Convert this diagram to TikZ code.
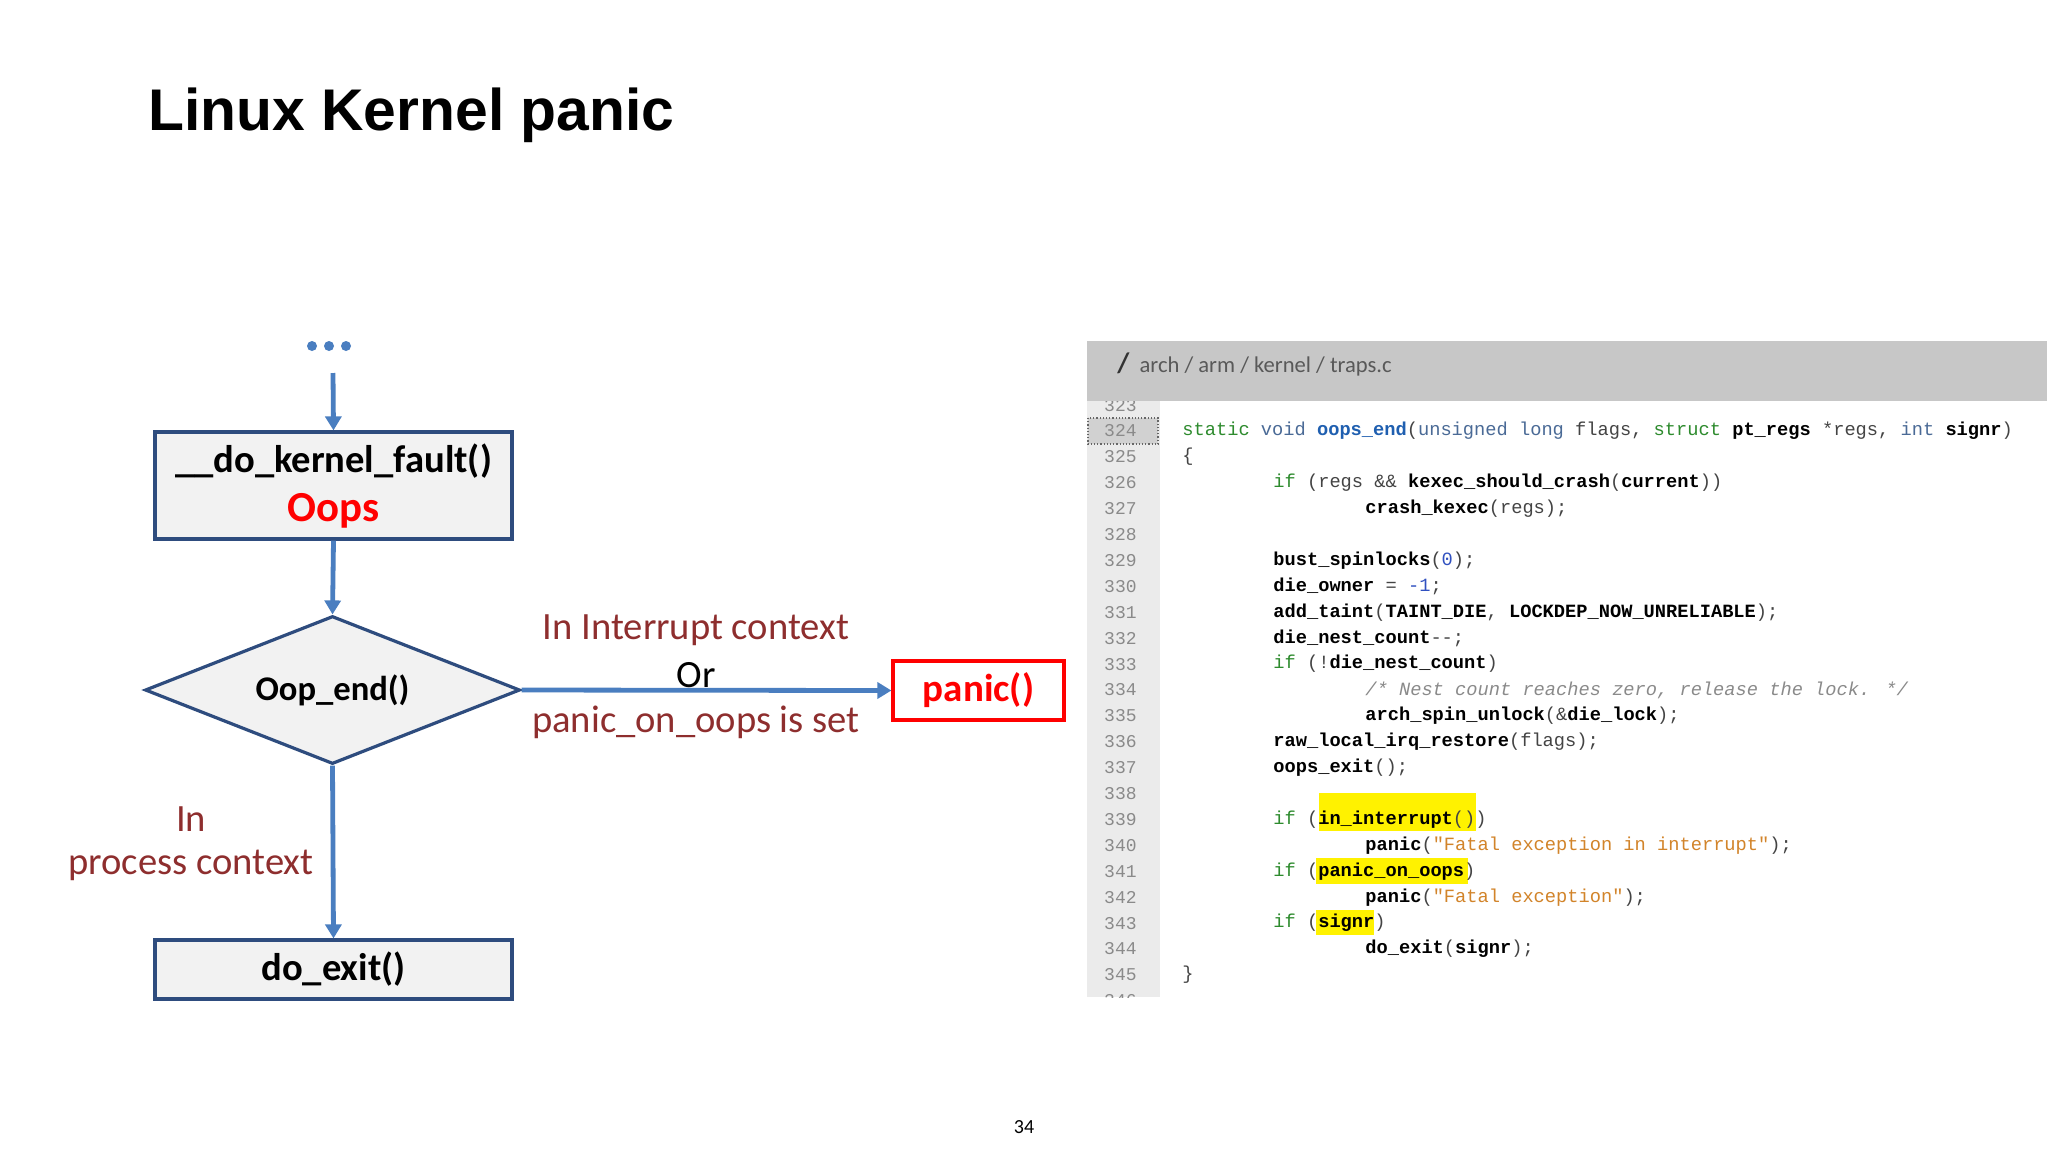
\documentclass[tikz,border=0pt]{standalone}
\usepackage{fontspec}
\setmainfont{Carlito}
\newfontfamily\titlefont{Liberation Sans}
\newfontfamily\codefont{Liberation Mono}
\usetikzlibrary{shapes.geometric,arrows.meta}
\definecolor{arr}{HTML}{4A7EC0}
\definecolor{bord}{HTML}{2E4C7E}
\definecolor{boxfill}{HTML}{F2F2F2}
\definecolor{lab}{HTML}{8E2E2E}
\definecolor{kw}{HTML}{2E8B2E}
\definecolor{ty}{HTML}{4A6A96}
\definecolor{fn}{HTML}{1F5FB0}
\definecolor{st}{HTML}{D2842A}
\definecolor{cm}{HTML}{8A8A8A}
\definecolor{nm}{HTML}{3050C0}
\definecolor{tx}{HTML}{444444}
\newcommand\Kw[1]{\textcolor{kw}{#1}}
\newcommand\Ty[1]{\textcolor{ty}{#1}}
\newcommand\Fn[1]{\textcolor{fn}{\bfseries #1}}
\newcommand\Bd[1]{\textcolor{black}{\bfseries #1}}
\newcommand\St[1]{\textcolor{st}{#1}}
\newcommand\Cm[1]{\textcolor{cm}{\itshape #1}}
\newcommand\Nm[1]{\textcolor{nm}{#1}}
\tikzset{
  flowbox/.style={draw=bord,line width=1.6pt,fill=boxfill,inner sep=0pt,font=\fontsize{19.3}{22}\selectfont\bfseries},
  flowarr/.style={draw=arr,line width=2.4pt,-{Triangle[length=7pt,width=8pt]}},
  lbl/.style={text=lab,font=\fontsize{19.3}{22}\selectfont},
  codeln/.style={anchor=west,inner sep=0pt,text=tx,font=\codefont\fontsize{9.35}{11}\selectfont},
  lnum/.style={anchor=east,inner sep=0pt,text=cm,font=\codefont\fontsize{9}{11}\selectfont}
}
\begin{document}
\begin{tikzpicture}[x=0.5pt,y=-0.5pt]
\useasboundingbox (0,0) rectangle (2048,1152);
\fill[white] (0,0) rectangle (2048,1152);
% title
\node[anchor=west,inner sep=0pt,font=\titlefont\fontsize{29.4}{32}\selectfont\bfseries] (title) at (148,115) {Linux Kernel panic};
% dots
\foreach \x [count=\i] in {312,329,346} \fill[arr] (\x,346) circle (5);
\coordinate (top) at (333,373);
% boxes
\node[flowbox,minimum width=178.5pt,minimum height=53.5pt,align=center] (fault) at (333.5,485.5) {};
\node[font=\fontsize{19.3}{22}\selectfont\bfseries] (faultt) at (333.5,461) {\_\_do\_kernel\_fault()};
\node[font=\fontsize{21.4}{24}\selectfont\bfseries,text=red] (oops) at (333.5,511) {Oops};
\node[diamond,draw=bord,line width=1.6pt,fill=boxfill,minimum width=187.5pt,minimum height=74pt,inner sep=0pt,aspect=2.5,font=\fontsize{17.3}{20}\selectfont\bfseries] (dia) at (332.5,690) {Oop\_end()};
\node[draw=red,line width=1.6pt,fill=white,minimum width=85.5pt,minimum height=29.5pt,inner sep=0pt,text=red,font=\fontsize{19.5}{22}\selectfont\bfseries] (panic) at (978.5,690.5) {panic()};
\node[flowbox,minimum width=178.5pt,minimum height=29.5pt] (exit) at (333.5,969.5) {do\_exit()};
% arrows
\draw[flowarr] (top) -- (fault.north);
\draw[flowarr] (fault.south) -- (dia.north);
\draw[flowarr] (dia.east) -- (panic.west);
\draw[flowarr] (dia.south) -- (exit.north);
% labels
\node[lbl] (l1) at (696,630) {In Interrupt context};
\node[font=\fontsize{19.3}{22}\selectfont] (l2) at (696,675) {Or};
\node[lbl] (l3) at (696,722) {panic\_on\_oops is set};
\node[lbl] (l4) at (191,819) {In};
\node[lbl] (l5) at (191,865) {process context};
\node[font=\fontsize{10}{12}\selectfont] (pg) at (1024,1127) {34};
% code panel
\fill[white] (1087,341) rectangle (2047,997);
\fill[black!22] (1087,341) rectangle (2047,401);
\node[anchor=west,inner sep=0pt,text=black!65,font=\fontsize{11.3}{13}\selectfont] (path) at (1117,364) {\textcolor{black!80}{\fontsize{14}{13}\selectfont\bfseries /}\ \ arch / arm / kernel / traps.c};
\begin{scope}
\clip (1087,401) rectangle (2047,997);
\fill[black!8] (1087,401) rectangle (1160,997);
\fill[black!18] (1088,418) rectangle (1158,444);
\draw[black!60,densely dotted,line width=0.6pt] (1088,418) rectangle (1158,444);
\foreach \n in {323,...,346} \node[lnum] (n\n) at (1137,{431+(\n-324)*25.9}) {\n};
\fill[yellow] (1319,793) rectangle (1476,831);
\fill[yellow] (1316,858) rectangle (1468,884);
\fill[yellow] (1316,910) rectangle (1374,935);
\def\ia{1182}\def\ib{1273}\def\ic{1365}
\node[codeln] (c324) at (\ia,431) {\Kw{static} \Ty{void} \Fn{oops\_end}(\Ty{unsigned long} flags, \Kw{struct} \Bd{pt\_regs} *regs, \Ty{int} \Bd{signr})};
\node[codeln] (c325) at (\ia,456.9) {\{};
\node[codeln] (c326) at (\ib,482.8) {\Kw{if} (regs \&\& \Bd{kexec\_should\_crash}(\Bd{current}))};
\node[codeln] (c327) at (\ic,508.7) {\Bd{crash\_kexec}(regs);};
\node[codeln] (c329) at (\ib,560.5) {\Bd{bust\_spinlocks}(\Nm{0});};
\node[codeln] (c330) at (\ib,586.4) {\Bd{die\_owner} = \Nm{-1};};
\node[codeln] (c331) at (\ib,612.3) {\Bd{add\_taint}(\Bd{TAINT\_DIE}, \Bd{LOCKDEP\_NOW\_UNRELIABLE});};
\node[codeln] (c332) at (\ib,638.2) {\Bd{die\_nest\_count}-{}-;};
\node[codeln] (c333) at (\ib,664.1) {\Kw{if} (!\Bd{die\_nest\_count})};
\node[codeln] (c334) at (\ic,690.0) {\Cm{/* Nest count reaches zero, release the lock. */}};
\node[codeln] (c335) at (\ic,715.9) {\Bd{arch\_spin\_unlock}(\&\Bd{die\_lock});};
\node[codeln] (c336) at (\ib,741.8) {\Bd{raw\_local\_irq\_restore}(flags);};
\node[codeln] (c337) at (\ib,767.7) {\Bd{oops\_exit}();};
\node[codeln] (c339) at (\ib,819.5) {\Kw{if} (\Bd{in\_interrupt}())};
\node[codeln] (c340) at (\ic,845.4) {\Bd{panic}(\St{"Fatal exception in interrupt"});};
\node[codeln] (c341) at (\ib,871.3) {\Kw{if} (\Bd{panic\_on\_oops})};
\node[codeln] (c342) at (\ic,897.2) {\Bd{panic}(\St{"Fatal exception"});};
\node[codeln] (c343) at (\ib,923.1) {\Kw{if} (\Bd{signr})};
\node[codeln] (c344) at (\ic,949.0) {\Bd{do\_exit}(\Bd{signr});};
\node[codeln] (c345) at (\ia,974.9) {\}};
\end{scope}
\end{tikzpicture}
\end{document}
